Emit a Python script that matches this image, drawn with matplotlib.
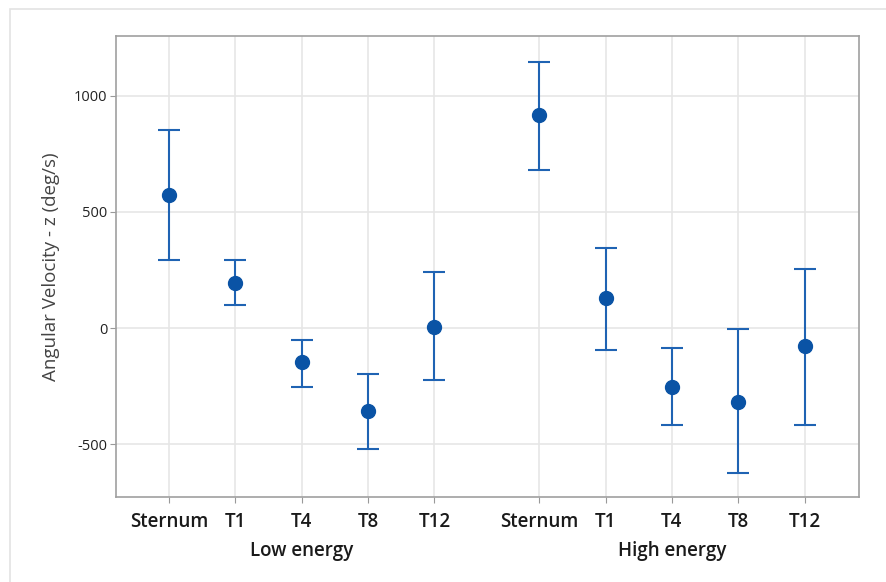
import matplotlib
matplotlib.use("Agg")
import matplotlib.pyplot as plt
from matplotlib.patches import Rectangle

plt.rcParams['font.family'] = ['Open Sans', 'DejaVu Sans']

categories = ["Sternum", "T1", "T4", "T8", "T12"]
groups = ["Low energy", "High energy"]
low_mean = [573, 194, -147, -358, 4]
low_upper = [853, 293, -52, -198, 241]
low_lower = [293, 99, -254, -522, -224]
high_mean = [918, 129, -254, -319, -78]
high_upper = [1147, 345, -86, -4, 254]
high_lower = [681, -95, -418, -625, -418]
yticks = [-500, 0, 500, 1000]

fig = plt.figure(figsize=(8.86, 5.82), dpi=100)
fig.patches.append(Rectangle((10/886, -0.1), 1.2, 1 - 9/582 + 0.1, transform=fig.transFigure,
                             fill=False, edgecolor='#e3e3e3', linewidth=1.2))
ax = fig.add_axes([116/886, 1 - 497/582, (859-116)/886, (497-36)/582])

gap = 105/66.5
xs_low = [i for i in range(5)]
xs_high = [4 + gap + i for i in range(5)]

color_line = '#1f63b3'
color_mark = '#0a53a5'
for xs, m, up, lo in [(xs_low, low_mean, low_upper, low_lower),
                      (xs_high, high_mean, high_upper, high_lower)]:
    yerr = [[mm - l for mm, l in zip(m, lo)], [u - mm for mm, u in zip(m, up)]]
    ax.errorbar(xs, m, yerr=yerr, fmt='none', ecolor=color_line, elinewidth=1.5,
                capsize=8, capthick=1.5, zorder=3)
    ax.plot(xs, m, 'o', color=color_mark, markersize=10, zorder=4)

ax.set_xlim(-0.8, xs_high[-1] + 0.82)
ax.set_ylim(-728, 1258)
ax.set_yticks(yticks)
ax.set_yticklabels([str(v) for v in yticks], fontsize=10.5, color='#222222', fontweight='medium')
ax.set_xticks(xs_low + xs_high)
ax.set_xticklabels(categories + categories, fontsize=13.5, color='#1a1a1a', fontweight='semibold')
ax.tick_params(axis='x', length=4, color='#999999', pad=7)
ax.tick_params(axis='y', length=4, color='#999999', pad=2)
ax.grid(True, color='#e6e6e6', linewidth=1.2)
ax.set_axisbelow(True)
for s in ax.spines.values():
    s.set_color('#a0a0a0')
    s.set_linewidth(1.2)

ax.set_ylabel("Angular Velocity - z (deg/s)", fontsize=13.5, color='#444444', labelpad=10)

ax.text(sum(xs_low[1:4])/3, -0.118, groups[0], transform=ax.get_xaxis_transform(),
        ha='center', va='center', fontsize=13.5, color='#1a1a1a', fontweight='semibold')
ax.text(sum(xs_high[1:4])/3, -0.118, groups[1], transform=ax.get_xaxis_transform(),
        ha='center', va='center', fontsize=13.5, color='#1a1a1a', fontweight='semibold')

fig.savefig("out.png", dpi=100)
